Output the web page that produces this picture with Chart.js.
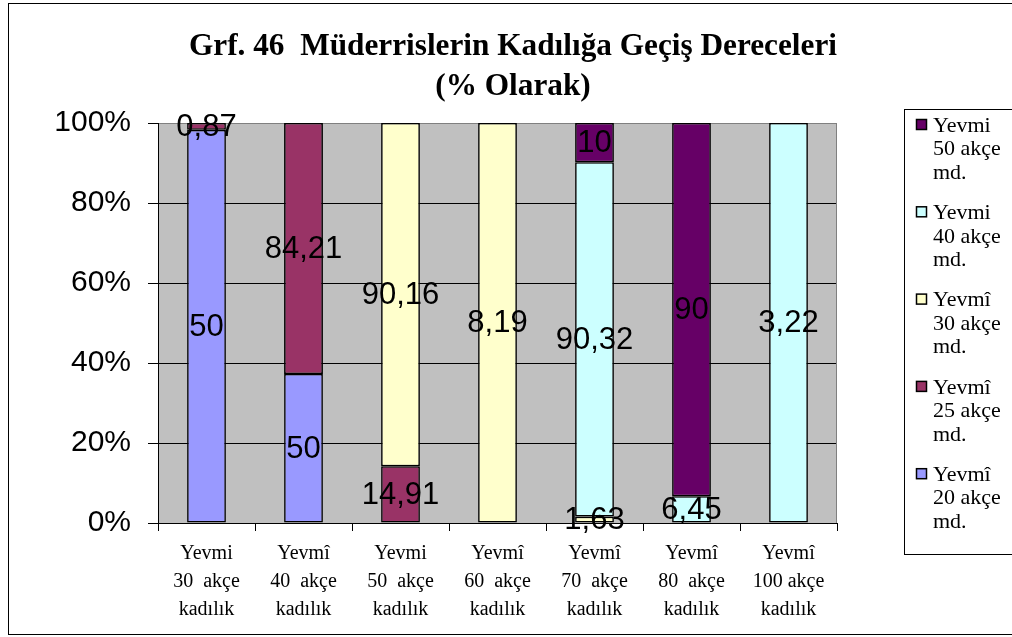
<!DOCTYPE html>
<html>
<head>
<meta charset="utf-8">
<script src="https://cdn.jsdelivr.net/npm/chart.js@4.4.1/dist/chart.umd.min.js"></script>
<style>
  html, body { margin: 0; padding: 0; background: #fff; }
  #wrap { width: 1012px; height: 637px; position: relative; }
</style>
</head>
<body>
<div id="wrap"><canvas id="c" width="1012" height="637"></canvas></div>
<script>
// Kadılık derecesi (x ekseni)
const categories = [
  ['Yevmi', '30  akçe', 'kadılık'],
  ['Yevmî', '40  akçe', 'kadılık'],
  ['Yevmi', '50  akçe', 'kadılık'],
  ['Yevmî', '60  akçe', 'kadılık'],
  ['Yevmî', '70  akçe', 'kadılık'],
  ['Yevmî', '80  akçe', 'kadılık'],
  ['Yevmî', '100 akçe', 'kadılık']
];

// Müderrislik derecesi (seriler, alttan üste)
const seriesLabels = [
  ['Yevmî', '20 akçe', 'md.'],
  ['Yevmî', '25 akçe', 'md.'],
  ['Yevmî', '30 akçe', 'md.'],
  ['Yevmi', '40 akçe', 'md.'],
  ['Yevmi', '50 akçe', 'md.']
];

const md20 = [50, 50, null, null, null, null, null];
const md25 = [0.87, 84.21, 14.91, null, null, null, null];
const md30 = [null, null, 90.16, 8.19, 1.63, null, null];
const md40 = [null, null, null, null, 90.32, 6.45, 3.22];
const md50 = [null, null, null, null, 10, 90, null];

const yTicks = [0, 20, 40, 60, 80, 100];

const titleLines = ['Grf. 46  Müderrislerin Kadılığa Geçiş Dereceleri', '(% Olarak)'];

const seriesColors = ['#9999FF', '#993366', '#FFFFCC', '#CCFFFF', '#660066'];

const rawSeries = [md20, md25, md30, md40, md50];

// %100 yığılmış sütun: her kategoriyi kendi toplamına göre oranla
const totals = categories.map((_, j) =>
  rawSeries.reduce((s, arr) => s + (arr[j] == null ? 0 : arr[j]), 0));
const percentOf = arr => arr.map((v, j) => v == null ? null : v / totals[j] * 100);

const datasets = rawSeries.map((arr, i) => ({
  label: seriesLabels[i].join(' '),
  data: percentOf(arr),
  backgroundColor: seriesColors[i],
  borderColor: '#000000',
  borderWidth: 1.6,
  borderSkipped: false,
  barPercentage: 0.4,
  categoryPercentage: 1.0
}));

// Gri çizim alanı zemini ve sağ kenar
const plotBackground = {
  id: 'plotBackground',
  beforeDraw(chart) {
    const { ctx, chartArea: a } = chart;
    ctx.save();
    ctx.fillStyle = '#C0C0C0';
    ctx.fillRect(a.left, a.top, a.right - a.left, a.bottom - a.top);
    ctx.restore();
  },
  beforeDatasetsDraw(chart) {
    const { ctx, chartArea: a } = chart;
    ctx.save();
    ctx.strokeStyle = '#808080';
    ctx.lineWidth = 1;
    ctx.beginPath();
    ctx.moveTo(Math.round(a.right) - 0.5, a.top);
    ctx.lineTo(Math.round(a.right) - 0.5, a.bottom);
    ctx.stroke();
    ctx.restore();
  }
};

// Dış çerçeve ve başlık
const frameAndTitle = {
  id: 'frameAndTitle',
  afterDraw(chart) {
    const ctx = chart.ctx;
    ctx.save();
    ctx.strokeStyle = '#000000';
    ctx.lineWidth = 1;
    ctx.strokeRect(8.5, 3.5, 1020, 631);
    ctx.fillStyle = '#000000';
    ctx.textAlign = 'center';
    ctx.textBaseline = 'middle';
    ctx.font = 'bold 32px "Liberation Serif", "Times New Roman", serif';
    const cx = 513;
    const targetW = 648;
    const w = ctx.measureText(titleLines[0]).width;
    const sx = targetW / w;
    [[titleLines[0], 47], [titleLines[1], 87]].forEach(([t, y]) => {
      ctx.save();
      ctx.translate(cx, y);
      ctx.scale(sx, 1);
      ctx.fillText(t, 0, 0);
      ctx.restore();
    });
    ctx.restore();
  }
};

// Değer etiketleri (ham değerler, virgüllü)
const valueLabels = {
  id: 'valueLabels',
  afterDatasetsDraw(chart) {
    const ctx = chart.ctx;
    ctx.save();
    ctx.fillStyle = '#000000';
    ctx.textAlign = 'center';
    ctx.textBaseline = 'middle';
    ctx.font = '31px "Liberation Sans", Arial, sans-serif';
    chart.data.datasets.forEach((ds, i) => {
      const meta = chart.getDatasetMeta(i);
      meta.data.forEach((bar, j) => {
        const v = rawSeries[i][j];
        if (v == null) return;
        const p = bar.getProps(['x', 'y', 'base'], true);
        const cy = (p.y + p.base) / 2;
        ctx.fillText(String(v).replace('.', ','), p.x, cy + 1);
      });
    });
    ctx.restore();
  }
};

// Lejant (üstten alta: son seriden ilke)
const sideLegend = {
  id: 'sideLegend',
  afterDraw(chart) {
    const ctx = chart.ctx;
    const n = chart.data.datasets.length;
    ctx.save();
    ctx.strokeStyle = '#000000';
    ctx.lineWidth = 1;
    ctx.strokeRect(904.5, 109.5, 200, 445);
    ctx.font = '22px "Liberation Serif", "Times New Roman", serif';
    ctx.textAlign = 'left';
    ctx.textBaseline = 'middle';
    for (let k = 0; k < n; k++) {
      const i = n - 1 - k;
      const top = 125 + k * 87.3;
      ctx.fillStyle = chart.data.datasets[i].backgroundColor;
      ctx.fillRect(916.5, top - 5.5, 10, 10);
      ctx.strokeStyle = '#000000';
      ctx.lineWidth = 1.5;
      ctx.strokeRect(916.5, top - 5.5, 10, 10);
      ctx.fillStyle = '#000000';
      seriesLabels[i].forEach((line, l) => {
        ctx.fillText(line, 933, top + l * 23.5 + 1);
      });
    }
    ctx.restore();
  }
};

new Chart(document.getElementById('c'), {
  type: 'bar',
  data: { labels: categories, datasets },
  options: {
    responsive: false,
    animation: false,
    devicePixelRatio: 1,
    layout: { padding: { left: 8, top: 123, right: 175, bottom: 0 } },
    plugins: {
      legend: { display: false },
      title: { display: false },
      tooltip: { enabled: false }
    },
    scales: {
      x: {
        stacked: true,
        offset: true,
        grid: {
          display: true,
          drawOnChartArea: false,
          drawTicks: true,
          tickLength: 8,
          offset: true,
          color: '#000000',
          tickColor: '#000000'
        },
        border: { display: true, color: '#000000', width: 1 },
        ticks: {
          color: '#000000',
          font: { family: '"Liberation Serif", "Times New Roman", serif', size: 20, lineHeight: 1.4 },
          padding: 9,
          maxRotation: 0,
          autoSkip: false
        },
        afterFit(scale) { scale.height = 114; }
      },
      y: {
        stacked: true,
        min: 0,
        max: 100,
        afterBuildTicks(scale) { scale.ticks = yTicks.map(v => ({ value: v })); },
        grid: {
          color: ctx => (ctx.tick && ctx.tick.value === 100) ? '#808080' : '#000000',
          tickColor: '#000000',
          tickLength: 10,
          lineWidth: 1
        },
        border: { display: true, color: '#000000', width: 1 },
        ticks: {
          color: '#000000',
          font: { family: '"Liberation Sans", Arial, sans-serif', size: 30 },
          padding: 17,
          callback: v => v + '%'
        },
        afterFit(scale) { scale.width = 150; }
      }
    }
  },
  plugins: [plotBackground, valueLabels, sideLegend, frameAndTitle]
});
</script>
</body>
</html>
